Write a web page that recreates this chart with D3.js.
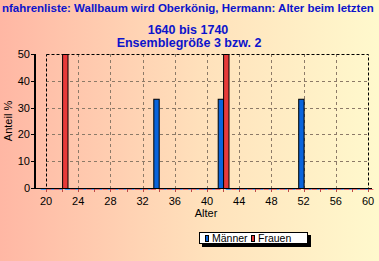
<!DOCTYPE html>
<html>
<head>
<meta charset="utf-8">
<script src="https://cdn.jsdelivr.net/npm/d3@7"></script>
<style>
  html, body { margin: 0; padding: 0; overflow: hidden; }
  body { width: 379px; height: 261px; }
</style>
</head>
<body>
<div id="chart"></div>
<script>
// ages shown on the x axis
var ages = [20, 21, 22, 23, 24, 25, 26, 27, 28, 29, 30, 31, 32, 33, 34, 35, 36, 37, 38, 39, 40,
            41, 42, 43, 44, 45, 46, 47, 48, 49, 50, 51, 52, 53, 54, 55, 56, 57, 58, 59, 60];
// share in percent per age
var maenner = [0, 0, 0, 0, 0, 0, 0, 0, 0, 0, 0, 0, 0, 0, 33.3, 0, 0, 0, 0, 0, 0,
               0, 33.3, 0, 0, 0, 0, 0, 0, 0, 0, 0, 33.3, 0, 0, 0, 0, 0, 0, 0, 0];
var frauen = [0, 0, 50, 0, 0, 0, 0, 0, 0, 0, 0, 0, 0, 0, 0, 0, 0, 0, 0, 0, 0,
              0, 50, 0, 0, 0, 0, 0, 0, 0, 0, 0, 0, 0, 0, 0, 0, 0, 0, 0, 0];
var xTicks = [20, 24, 28, 32, 36, 40, 44, 48, 52, 56, 60];
var yTicks = [0, 10, 20, 30, 40, 50];
var titleLines = ["nfahrenliste: Wallbaum wird Oberkönig, Hermann: Alter beim letzten",
                  "1640 bis 1740",
                  "Ensemblegröße 3 bzw. 2"];
var seriesNames = ["Männer", "Frauen"];
var colors = { "Männer": "#0a64dc", "Frauen": "#e83a3a" };

var W = 379, H = 261;
var plot = { left: 46, right: 368, top: 54, bottom: 188 };
var font = "Liberation Sans, Arial, sans-serif";

var svg = d3.select("#chart").append("svg")
  .attr("width", W).attr("height", H);

// background gradient
var defs = svg.append("defs");
var grad = defs.append("linearGradient").attr("id", "bg")
  .attr("x1", "0%").attr("x2", "100%").attr("y1", "0%").attr("y2", "0%");
grad.append("stop").attr("offset", "0%").attr("stop-color", "#ffb7a4");
grad.append("stop").attr("offset", "55%").attr("stop-color", "#ffe2bc");
grad.append("stop").attr("offset", "100%").attr("stop-color", "#fff9cd");
svg.append("rect").attr("width", W).attr("height", H).attr("fill", "url(#bg)");

var x = d3.scaleLinear().domain([20, 60]).range([plot.left, plot.right]);
var y = d3.scaleLinear().domain([0, 50]).range([plot.bottom, plot.top]);

// title
var title = svg.append("g").attr("font-family", font)
  .attr("font-weight", "bold").attr("fill", "#0c14cc").attr("font-size", 12.5);
var t1 = title.append("text").attr("x", 2).attr("y", 12).text(titleLines[0]);
// shrink the long first line until it fits the width
var len = t1.node().getComputedTextLength();
if (len > 372) t1.attr("font-size", 12.5 * 372 / len);
title.append("text").attr("x", 188).attr("y", 34).attr("text-anchor", "middle").text(titleLines[1]);
title.append("text").attr("x", 189).attr("y", 47).attr("text-anchor", "middle").text(titleLines[2]);

// grid
var grid = svg.append("g").attr("stroke", "#8c7a68").attr("stroke-dasharray", "3,3").attr("stroke-width", 1);
grid.selectAll("line.gx").data(xTicks.slice(1, -1)).enter().append("line")
  .attr("x1", function (d) { return Math.round(x(d)) + 0.5; })
  .attr("x2", function (d) { return Math.round(x(d)) + 0.5; })
  .attr("y1", plot.top).attr("y2", plot.bottom);
grid.selectAll("line.gy").data(yTicks.slice(1, -1)).enter().append("line")
  .attr("x1", plot.left).attr("x2", plot.right)
  .attr("y1", function (d) { return Math.round(y(d)) + 0.5; })
  .attr("y2", function (d) { return Math.round(y(d)) + 0.5; });

// plot frame
svg.append("rect")
  .attr("x", plot.left + 0.5).attr("y", plot.top + 0.5)
  .attr("width", plot.right - plot.left).attr("height", plot.bottom - plot.top)
  .attr("fill", "none").attr("stroke", "#000").attr("stroke-dasharray", "3,2");

// bars: men left of the age, women right of it
var barW = 0.67;
var rows = ages.map(function (a, i) { return { age: a, m: maenner[i], f: frauen[i] }; });
var bars = svg.append("g");
[["Männer", "m", -barW], ["Frauen", "f", 0]].forEach(function (s) {
  var g = bars.append("g");
  g.selectAll("rect").data(rows.filter(function (d) { return d[s[1]] > 0; })).enter().append("rect")
    .attr("x", function (d) { return x(d.age + s[2]) + 0.5; })
    .attr("width", x(20 + barW) - x(20))
    .attr("y", function (d) { return y(d[s[1]]) + 0.5; })
    .attr("height", function (d) { return y(0) - y(d[s[1]]); })
    .attr("fill", colors[s[0]]).attr("stroke", "#000").attr("stroke-width", 1);
  // zero-height bars show as coloured dashes on the axis
  g.selectAll("line").data(rows.filter(function (d) { return d[s[1]] === 0; })).enter().append("line")
    .attr("x1", function (d) { return x(d.age + s[2]); })
    .attr("x2", function (d) { return x(d.age + s[2] + barW); })
    .attr("y1", plot.bottom + 1.5).attr("y2", plot.bottom + 1.5)
    .attr("stroke", s[0] === "Männer" ? "#5aa0f0" : "#e87070").attr("stroke-width", 1);
});

// x axis
var xAxis = svg.append("g").attr("transform", "translate(0," + plot.bottom + ")");
xAxis.append("line").attr("x1", 33).attr("x2", plot.right + 4).attr("y1", 0.5).attr("y2", 0.5)
  .attr("stroke", "#000");
var minor = d3.range(20, 61, 2);
xAxis.selectAll("line.tk").data(minor).enter().append("line")
  .attr("x1", function (d) { return Math.round(x(d)) + 0.5; })
  .attr("x2", function (d) { return Math.round(x(d)) + 0.5; })
  .attr("y1", 1).attr("y2", 4).attr("stroke", "#c04848");
xAxis.selectAll("text").data(xTicks).enter().append("text")
  .attr("x", function (d) { return x(d); }).attr("y", 16.5)
  .attr("text-anchor", "middle").attr("font-family", font)
  .attr("font-size", 11).attr("fill", "#000").text(function (d) { return d; });

// y axis
var yAxis = svg.append("g").attr("transform", "translate(35,0)");
yAxis.append("line").attr("x1", 0).attr("x2", 0).attr("y1", plot.top).attr("y2", plot.bottom + 1)
  .attr("stroke", "#000").attr("stroke-width", 2);
yAxis.selectAll("line.tk").data(yTicks).enter().append("line")
  .attr("x1", -4).attr("x2", 0)
  .attr("y1", function (d) { return Math.round(y(d)) + 0.5; })
  .attr("y2", function (d) { return Math.round(y(d)) + 0.5; })
  .attr("stroke", "#000");
yAxis.selectAll("text").data(yTicks).enter().append("text")
  .attr("x", -5).attr("y", function (d) { return y(d) + 4; })
  .attr("text-anchor", "end").attr("font-family", font)
  .attr("font-size", 11).attr("fill", "#000").text(function (d) { return d; });

// axis titles
svg.append("text").attr("transform", "translate(11.5,121) rotate(-90)")
  .attr("text-anchor", "middle").attr("font-family", font)
  .attr("font-size", 11).text("Anteil %");
svg.append("text").attr("x", 206).attr("y", 217)
  .attr("text-anchor", "middle").attr("font-family", font)
  .attr("font-size", 11).text("Alter");

// legend
var lg = svg.append("g").attr("transform", "translate(199,232)");
lg.append("rect").attr("x", 3).attr("y", 3).attr("width", 109).attr("height", 12).attr("fill", "#000");
lg.append("rect").attr("x", 0.5).attr("y", 0.5).attr("width", 108).attr("height", 11)
  .attr("fill", "#fff").attr("stroke", "#000");
var items = lg.selectAll("g.item").data(seriesNames).enter().append("g")
  .attr("transform", function (d, i) { return "translate(" + (6 + i * 46) + ",0)"; });
items.append("rect").attr("x", 0.5).attr("y", 3.5).attr("width", 3).attr("height", 6)
  .attr("fill", function (d) { return colors[d]; }).attr("stroke", "#000");
items.append("text").attr("x", 7).attr("y", 10).attr("font-family", font)
  .attr("font-size", 10.5).attr("fill", "#000").text(function (d) { return d; });
</script>
</body>
</html>
